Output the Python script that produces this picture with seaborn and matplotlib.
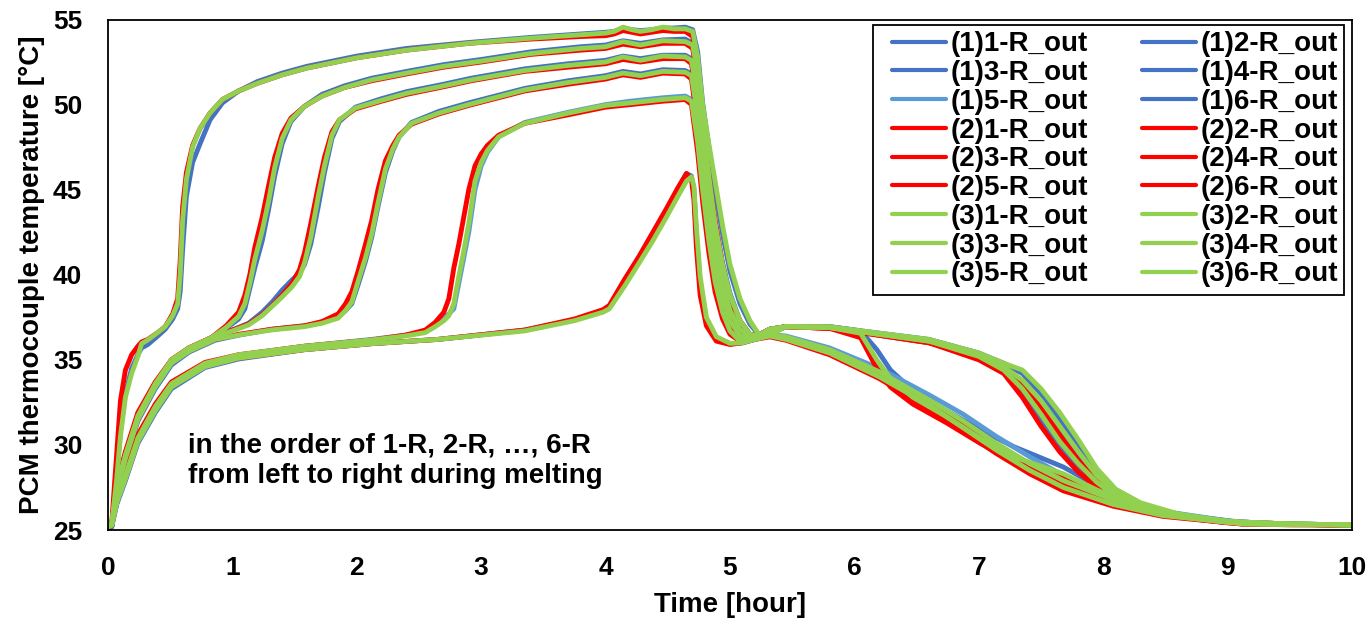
import matplotlib
matplotlib.use("Agg")
import matplotlib.pyplot as plt
from matplotlib.lines import Line2D
from matplotlib.patches import Rectangle
import pandas as pd
import seaborn as sns


FONT_SIZE = 20

# ---- data (time in hours, temperature in degC) ----
TIME_1R = [
    0, 0.03, 0.07, 0.10, 0.14, 0.19, 0.24, 0.27, 0.32, 0.40,
    0.46, 0.52, 0.56, 0.58, 0.60, 0.63, 0.68, 0.74, 0.82, 0.92,
    1.05, 1.2, 1.4, 1.6, 1.8, 2.0, 2.4, 2.9, 3.4, 3.8,
    4.0, 4.07, 4.14, 4.21, 4.28, 4.37, 4.46, 4.55, 4.64, 4.70,
    4.74, 4.78, 4.83, 4.88, 4.94, 5.00, 5.08, 5.16, 5.24, 5.32,
    5.45, 5.8, 6.1, 6.6, 7.0, 7.2, 7.35, 7.5, 7.65, 7.8,
    7.95, 8.1, 8.3, 8.6, 9.0, 9.5, 10.0,
]
RUN1_1R = [
    25.1, 25.2, 28.3, 30.8, 33.0, 34.5, 35.3, 35.7, 35.9, 36.4,
    36.8, 37.4, 38.0, 39.0, 41.5, 44.6, 46.6, 47.7, 49.1, 50.1,
    50.8, 51.35, 51.85, 52.25, 52.55, 52.85, 53.3, 53.65, 53.95, 54.15,
    54.25, 54.3, 54.5, 54.4, 54.35, 54.4, 54.5, 54.5, 54.55, 54.4,
    53.1, 50.1, 47.5, 45.0, 42.4, 40.2, 38.3, 37.1, 36.4, 36.5,
    36.95, 36.95, 36.66, 36.2, 35.4, 34.8, 34.2, 33.0, 31.5, 29.9,
    28.3, 27.2, 26.5, 25.9, 25.5, 25.35, 25.3,
]
RUN2_1R = [
    25.2, 25.4, 29.5, 32.6, 34.4, 35.3, 35.8, 36.05, 36.2, 36.6,
    36.95, 37.7, 38.6, 40.8, 44.0, 46.0, 47.6, 48.6, 49.5, 50.3,
    50.8, 51.25, 51.75, 52.15, 52.45, 52.75, 53.2, 53.6, 53.85, 54.0,
    54.05, 54.15, 54.35, 54.25, 54.15, 54.25, 54.35, 54.3, 54.3, 54.0,
    52.0, 48.8, 45.8, 43.2, 40.6, 38.6, 37.3, 36.5, 36.4, 36.6,
    36.95, 36.9, 36.6, 36.1, 35.3, 34.6, 33.6, 32.2, 30.6, 29.1,
    27.9, 27.0, 26.3, 25.8, 25.45, 25.33, 25.3,
]
RUN3_1R = [
    25.2, 25.3, 28.0, 30.5, 32.8, 34.2, 35.2, 35.95, 36.17, 36.6,
    36.95, 37.6, 38.3, 40.0, 43.2, 45.6, 47.5, 48.6, 49.5, 50.3,
    50.8, 51.25, 51.75, 52.15, 52.45, 52.75, 53.2, 53.6, 53.9, 54.1,
    54.2, 54.3, 54.55, 54.4, 54.3, 54.4, 54.55, 54.45, 54.45, 54.3,
    52.8, 50.0, 47.7, 45.5, 42.9, 40.6, 38.6, 37.3, 36.4, 36.5,
    36.95, 36.95, 36.66, 36.2, 35.4, 34.8, 34.4, 33.3, 31.9, 30.3,
    28.6, 27.4, 26.6, 25.95, 25.5, 25.35, 25.3,
]

TIME_2R = [
    0, 0.03, 0.07, 0.14, 0.24, 0.38, 0.51, 0.65, 0.83, 0.95,
    1.05, 1.10, 1.14, 1.18, 1.24, 1.29, 1.34, 1.40, 1.47, 1.58,
    1.72, 1.9, 2.12, 2.4, 2.7, 3.0, 3.4, 3.8, 4.0, 4.14,
    4.28, 4.46, 4.64, 4.70, 4.74, 4.78, 4.83, 4.88, 4.94, 5.00,
    5.08, 5.16, 5.24, 5.32, 5.45, 5.8, 6.1, 6.6, 7.0, 7.2,
    7.35, 7.5, 7.65, 7.8, 7.95, 8.1, 8.3, 8.6, 9.0, 9.5,
    10.0,
]
RUN1_2R = [
    25.1, 25.2, 27.3, 29.3, 31.6, 33.5, 34.9, 35.65, 36.3, 36.85,
    37.4, 38.0, 39.2, 40.4, 42.0, 43.8, 45.8, 47.7, 49.0, 49.9,
    50.6, 51.1, 51.55, 51.95, 52.35, 52.65, 53.1, 53.4, 53.5, 53.75,
    53.6, 53.8, 53.85, 53.6, 51.9, 49.1, 45.9, 43.1, 40.7, 38.9,
    37.3, 36.5, 36.4, 36.7, 36.95, 36.9, 36.6, 36.1, 35.3, 34.5,
    33.6, 32.3, 30.8, 29.3, 28.0, 27.1, 26.35, 25.85, 25.5, 25.35,
    25.3,
]
RUN2_2R = [
    25.2, 25.3, 27.7, 29.6, 31.9, 33.7, 35.0, 35.7, 36.3, 37.0,
    37.8, 38.8, 40.0, 41.6, 43.4, 45.2, 46.9, 48.3, 49.2, 49.9,
    50.5, 51.0, 51.4, 51.8, 52.2, 52.5, 52.95, 53.2, 53.3, 53.55,
    53.4, 53.6, 53.6, 53.3, 51.3, 48.2, 45.0, 42.3, 40.0, 38.3,
    37.0, 36.4, 36.4, 36.7, 36.95, 36.85, 36.55, 36.0, 35.2, 34.4,
    33.4, 31.9, 30.3, 28.9, 27.7, 26.9, 26.2, 25.8, 25.45, 25.33,
    25.3,
]
RUN3_2R = [
    25.2, 25.3, 27.5, 29.4, 31.7, 33.6, 35.0, 35.7, 36.3, 36.9,
    37.55, 38.3, 39.5, 40.9, 42.6, 44.3, 46.3, 48.0, 49.1, 49.9,
    50.5, 51.0, 51.45, 51.85, 52.25, 52.55, 53.0, 53.3, 53.4, 53.7,
    53.5, 53.75, 53.7, 53.5, 51.8, 49.0, 45.8, 43.0, 40.6, 38.8,
    37.3, 36.5, 36.4, 36.7, 36.95, 36.9, 36.6, 36.1, 35.3, 34.6,
    33.8, 32.6, 31.1, 29.6, 28.2, 27.2, 26.4, 25.85, 25.5, 25.35,
    25.3,
]

TIME_3R = [
    0, 0.03, 0.07, 0.14, 0.24, 0.38, 0.51, 0.65, 0.86, 1.0,
    1.13, 1.24, 1.32, 1.40, 1.48, 1.54, 1.58, 1.63, 1.69, 1.74,
    1.80, 1.86, 1.99, 2.2, 2.4, 2.7, 2.92, 3.35, 3.7, 4.0,
    4.14, 4.28, 4.46, 4.64, 4.69, 4.74, 4.78, 4.83, 4.88, 4.94,
    5.00, 5.08, 5.16, 5.24, 5.32, 5.45, 5.8, 6.1, 6.6, 7.0,
    7.2, 7.35, 7.5, 7.65, 7.8, 7.95, 8.1, 8.3, 8.6, 9.0,
    9.5, 10.0,
]
RUN1_3R = [
    25.1, 25.2, 27.2, 29.2, 31.5, 33.4, 34.8, 35.6, 36.3, 36.75,
    37.15, 37.8, 38.4, 39.1, 39.7, 40.1, 40.6, 41.8, 44.0, 46.0,
    48.0, 49.0, 49.85, 50.35, 50.76, 51.2, 51.55, 52.1, 52.4, 52.6,
    52.85, 52.7, 52.9, 52.9, 52.7, 50.6, 47.9, 44.6, 41.9, 39.6,
    37.9, 36.8, 36.3, 36.45, 36.8, 36.95, 36.9, 36.6, 36.1, 35.2,
    34.3, 33.1, 31.5, 30.0, 28.7, 27.7, 26.9, 26.25, 25.8, 25.45,
    25.35, 25.3,
]
RUN2_3R = [
    25.2, 25.3, 27.6, 29.5, 31.8, 33.6, 35.0, 35.7, 36.4, 36.75,
    37.1, 37.65, 38.2, 38.8, 39.5, 40.3, 41.3, 43.0, 45.2, 46.9,
    48.4, 49.1, 49.75, 50.2, 50.6, 51.05, 51.4, 51.95, 52.2, 52.4,
    52.65, 52.5, 52.7, 52.7, 52.4, 50.0, 47.0, 43.8, 41.1, 38.9,
    37.5, 36.6, 36.3, 36.5, 36.8, 36.95, 36.85, 36.55, 36.0, 35.0,
    34.2, 32.8, 31.1, 29.6, 28.4, 27.5, 26.8, 26.2, 25.75, 25.42,
    25.33, 25.3,
]
RUN3_3R = [
    25.2, 25.3, 27.4, 29.3, 31.6, 33.5, 34.9, 35.65, 36.36, 36.7,
    37.05, 37.6, 38.15, 38.7, 39.3, 39.9, 40.7, 42.2, 44.6, 46.4,
    48.2, 49.1, 49.8, 50.25, 50.66, 51.1, 51.45, 52.0, 52.3, 52.5,
    52.8, 52.6, 52.85, 52.8, 52.6, 50.5, 47.8, 44.5, 41.8, 39.5,
    37.9, 36.8, 36.3, 36.45, 36.8, 36.95, 36.9, 36.6, 36.1, 35.2,
    34.4, 33.3, 31.8, 30.2, 28.9, 27.8, 27.0, 26.3, 25.8, 25.45,
    25.35, 25.3,
]

TIME_4R = [
    0, 0.03, 0.07, 0.14, 0.24, 0.38, 0.51, 0.65, 0.86, 1.05,
    1.32, 1.58, 1.72, 1.85, 1.91, 1.96, 2.01, 2.07, 2.12, 2.17,
    2.23, 2.29, 2.34, 2.44, 2.66, 2.9, 3.35, 3.7, 4.0, 4.14,
    4.28, 4.46, 4.64, 4.69, 4.74, 4.78, 4.83, 4.88, 4.94, 5.00,
    5.08, 5.16, 5.24, 5.32, 5.45, 5.8, 6.05, 6.18, 6.29, 6.47,
    6.74, 7.01, 7.28, 7.68, 7.95, 8.35, 8.7, 9.1, 9.5, 10.0,
]
RUN1_4R = [
    25.1, 25.2, 27.2, 29.1, 31.4, 33.3, 34.7, 35.45, 36.15, 36.45,
    36.8, 37.0, 37.2, 37.5, 37.9, 38.3, 39.4, 40.8, 42.2, 44.0,
    46.0, 47.3, 48.1, 48.95, 49.6, 50.1, 50.95, 51.4, 51.7, 51.95,
    51.8, 52.05, 52.0, 51.8, 49.5, 46.7, 43.5, 40.9, 38.8, 37.4,
    36.4, 36.2, 36.5, 36.8, 36.95, 36.95, 36.7, 35.6, 34.4, 33.2,
    32.0, 30.9, 29.9, 28.7, 27.6, 26.3, 25.8, 25.47, 25.35, 25.3,
]
RUN2_4R = [
    25.2, 25.3, 27.5, 29.4, 31.7, 33.5, 34.9, 35.55, 36.2, 36.5,
    36.8, 37.0, 37.25, 37.7, 38.3, 39.0, 40.2, 41.8, 43.2, 45.0,
    46.7, 47.6, 48.2, 48.85, 49.45, 49.95, 50.8, 51.2, 51.5, 51.75,
    51.6, 51.85, 51.8, 51.5, 48.8, 45.8, 42.6, 40.1, 38.2, 37.0,
    36.3, 36.2, 36.5, 36.8, 36.95, 36.85, 36.3, 34.5, 33.4, 32.4,
    31.3, 30.1, 29.1, 28.1, 27.2, 26.1, 25.7, 25.42, 25.33, 25.3,
]
RUN3_4R = [
    25.2, 25.3, 27.3, 29.2, 31.5, 33.4, 34.8, 35.5, 36.2, 36.46,
    36.76, 36.95, 37.15, 37.45, 37.9, 38.4, 39.6, 41.0, 42.4, 44.2,
    46.2, 47.4, 48.1, 48.9, 49.5, 50.0, 50.86, 51.3, 51.6, 51.85,
    51.7, 51.95, 51.9, 51.7, 49.4, 46.6, 43.4, 40.8, 38.7, 37.3,
    36.4, 36.2, 36.5, 36.8, 36.95, 36.9, 36.56, 35.0, 33.9, 32.8,
    31.66, 30.4, 29.3, 28.3, 27.35, 26.2, 25.75, 25.45, 25.35, 25.3,
]

TIME_5R = [
    0, 0.03, 0.07, 0.14, 0.24, 0.38, 0.51, 0.78, 1.05, 1.58,
    2.12, 2.39, 2.55, 2.63, 2.70, 2.74, 2.78, 2.82, 2.86, 2.90,
    2.95, 3.00, 3.05, 3.14, 3.35, 3.7, 4.0, 4.2, 4.46, 4.64,
    4.69, 4.74, 4.78, 4.83, 4.88, 4.94, 5.00, 5.08, 5.16, 5.24,
    5.32, 5.45, 5.8, 6.2, 6.61, 6.875, 7.14, 7.41, 7.68, 8.08,
    8.48, 9.13, 9.5, 10.0,
]
RUN1_5R = [
    25.1, 25.2, 26.6, 28.1, 30.3, 32.2, 33.5, 34.75, 35.25, 35.8,
    36.2, 36.45, 36.65, 37.0, 37.4, 37.7, 38.0, 39.5, 41.0, 42.5,
    45.0, 46.4, 47.2, 48.1, 48.95, 49.55, 50.0, 50.2, 50.4, 50.5,
    50.3, 47.9, 45.1, 42.1, 39.7, 37.9, 36.7, 36.1, 36.2, 36.4,
    36.5, 36.4, 35.7, 34.5, 32.9, 31.8, 30.5, 29.3, 28.2, 27.0,
    26.1, 25.4, 25.33, 25.3,
]
RUN2_5R = [
    25.2, 25.3, 26.9, 28.4, 30.6, 32.4, 33.7, 34.85, 35.3, 35.8,
    36.17, 36.45, 36.75, 37.2, 37.8, 38.6, 40.4, 41.8, 43.4, 45.0,
    46.4, 47.1, 47.6, 48.2, 48.9, 49.4, 49.85, 50.0, 50.2, 50.3,
    50.0, 47.2, 44.3, 41.3, 39.0, 37.4, 36.5, 36.1, 36.2, 36.4,
    36.45, 36.3, 35.5, 34.1, 32.4, 31.2, 29.9, 28.7, 27.7, 26.6,
    25.9, 25.34, 25.31, 25.3,
]
RUN3_5R = [
    25.2, 25.3, 26.7, 28.2, 30.4, 32.25, 33.6, 34.8, 35.3, 35.8,
    36.17, 36.4, 36.6, 36.95, 37.3, 37.6, 38.3, 39.9, 41.4, 43.0,
    45.5, 46.6, 47.3, 48.1, 48.9, 49.5, 49.95, 50.1, 50.3, 50.4,
    50.2, 47.8, 45.0, 42.0, 39.6, 37.8, 36.7, 36.1, 36.2, 36.4,
    36.5, 36.35, 35.6, 34.3, 32.6, 31.4, 30.1, 28.9, 27.9, 26.77,
    25.99, 25.36, 25.32, 25.3,
]

TIME_6R = [
    0, 0.03, 0.07, 0.14, 0.24, 0.38, 0.51, 0.78, 1.05, 1.58,
    2.12, 2.65, 3.35, 3.75, 3.98, 4.03, 4.15, 4.27, 4.38, 4.49,
    4.58, 4.65, 4.69, 4.71, 4.73, 4.76, 4.81, 4.89, 5.00, 5.10,
    5.20, 5.32, 5.45, 5.8, 6.2, 6.61, 6.875, 7.14, 7.41, 7.68,
    8.08, 8.48, 9.13, 9.5, 10.0,
]
RUN1_6R = [
    25.1, 25.2, 26.5, 27.9, 30.1, 31.9, 33.3, 34.55, 35.05, 35.6,
    35.95, 36.2, 36.75, 37.35, 37.9, 38.15, 39.6, 41.0, 42.4, 43.8,
    45.0, 45.95, 45.8, 45.0, 42.3, 39.5, 37.3, 36.3, 35.95, 36.0,
    36.2, 36.4, 36.2, 35.45, 34.1, 32.5, 31.2, 29.9, 28.7, 27.6,
    26.6, 25.9, 25.38, 25.33, 25.3,
]
RUN2_6R = [
    25.2, 25.3, 26.8, 28.2, 30.4, 32.1, 33.5, 34.65, 35.1, 35.6,
    35.95, 36.2, 36.75, 37.4, 37.95, 38.2, 39.7, 41.1, 42.5, 43.9,
    45.1, 45.95, 45.6, 44.4, 41.6, 38.8, 37.0, 36.1, 35.9, 36.0,
    36.2, 36.35, 36.15, 35.3, 33.9, 32.1, 30.8, 29.5, 28.3, 27.3,
    26.4, 25.8, 25.34, 25.31, 25.3,
]
RUN3_6R = [
    25.2, 25.3, 26.6, 28.0, 30.2, 32.0, 33.4, 34.6, 35.1, 35.6,
    35.95, 36.2, 36.7, 37.3, 37.8, 38.0, 39.3, 40.7, 42.0, 43.4,
    44.6, 45.5, 45.75, 45.2, 42.8, 39.9, 37.5, 36.36, 35.97, 36.0,
    36.2, 36.4, 36.2, 35.4, 34.0, 32.3, 31.0, 29.7, 28.5, 27.5,
    26.5, 25.85, 25.36, 25.32, 25.3,
]

POSITIONS = ["1-R", "2-R", "3-R", "4-R", "5-R", "6-R"]
RUNS = ["(1)", "(2)", "(3)"]
TIMES = [TIME_1R, TIME_2R, TIME_3R, TIME_4R, TIME_5R, TIME_6R]
TEMPS = {
    "(1)": [RUN1_1R, RUN1_2R, RUN1_3R, RUN1_4R, RUN1_5R, RUN1_6R],
    "(2)": [RUN2_1R, RUN2_2R, RUN2_3R, RUN2_4R, RUN2_5R, RUN2_6R],
    "(3)": [RUN3_1R, RUN3_2R, RUN3_3R, RUN3_4R, RUN3_5R, RUN3_6R],
}
RUN_COLORS = {"(1)": "#4472C4", "(2)": "#FF0000", "(3)": "#92D050"}
LIGHT_BLUE = "#5B9BD5"

X_TICKS = list(range(0, 11))
Y_TICKS = [25, 30, 35, 40, 45, 50, 55]
NOTE = "in the order of 1-R, 2-R, \u2026, 6-R\nfrom left to right during melting"


def build_frame() -> pd.DataFrame:
    rows = []
    for run in RUNS:
        for pos, times, temps in zip(POSITIONS, TIMES, TEMPS[run]):
            name = f"{run}{pos}_out"
            for t, v in zip(times, temps):
                rows.append({"time": t, "temp": v, "series": name})
    return pd.DataFrame(rows)


def series_palette() -> dict:
    palette = {}
    for run in RUNS:
        for pos in POSITIONS:
            palette[f"{run}{pos}_out"] = RUN_COLORS[run]
    palette["(1)5-R_out"] = LIGHT_BLUE
    return palette


def configure_style() -> None:
    sns.set_style("white")
    plt.rcParams["font.family"] = ["Liberation Sans", "DejaVu Sans"]
    plt.rcParams["font.weight"] = "bold"
    for key in ("text.color", "axes.labelcolor", "xtick.color", "ytick.color"):
        plt.rcParams[key] = "black"
    plt.rcParams["lines.solid_joinstyle"] = "round"
    plt.rcParams["lines.solid_capstyle"] = "round"


def main() -> None:
    configure_style()
    df = build_frame()
    palette = series_palette()
    order = [f"{run}{pos}_out" for run in RUNS for pos in POSITIONS]

    fig = plt.figure(figsize=(13.7, 6.24), dpi=100)
    ax = fig.add_axes([108 / 1370, 1 - 530 / 624, 1244 / 1370, 510.5 / 624])

    sns.lineplot(
        data=df, x="time", y="temp", hue="series", hue_order=order,
        palette=palette, estimator=None, sort=False, linewidth=3.5,
        legend=False, ax=ax,
    )

    ax.set_xlim(0, 10)
    ax.set_ylim(25, 55)
    ax.set_xticks(X_TICKS)
    ax.set_yticks(Y_TICKS)
    ax.tick_params(axis="both", length=0, labelsize=19)
    ax.tick_params(axis="y", pad=18.5)
    ax.tick_params(axis="x", pad=19)
    for lab in ax.get_xticklabels() + ax.get_yticklabels():
        lab.set_fontweight("bold")
    ax.set_xlabel("Time [hour]", fontsize=FONT_SIZE, fontweight="bold", labelpad=8)
    ax.set_ylabel("PCM thermocouple temperature [\u00b0C]", fontsize=FONT_SIZE,
                  fontweight="bold", labelpad=6)
    for spine in ax.spines.values():
        spine.set_color("black")
        spine.set_linewidth(1.3)

    ax.text(0.643, 27.77, NOTE, fontsize=FONT_SIZE, fontweight="bold",
            ha="left", va="baseline", linespacing=1.22)

    # legend frame drawn separately so the inner padding can match the original
    frame = Rectangle((0.615, 0.4603), 0.9936 - 0.615, 0.9892 - 0.4603,
                      transform=ax.transAxes, facecolor="white",
                      edgecolor="black", linewidth=1.3, zorder=4.5)
    ax.add_patch(frame)

    # legend filled row by row like the original: odd positions in column one
    legend_order = [f"{run}{pos}_out" for run in RUNS for pos in POSITIONS[0::2]]
    legend_order += [f"{run}{pos}_out" for run in RUNS for pos in POSITIONS[1::2]]
    handles = [Line2D([], [], color=palette[name], linewidth=3.0) for name in legend_order]
    leg = ax.legend(
        handles, legend_order, ncol=2, loc="upper left",
        bbox_to_anchor=(0.6302, 0.977), borderaxespad=0,
        prop={"weight": "bold", "size": FONT_SIZE},
        handlelength=1.95, handletextpad=0.15, columnspacing=1.95,
        labelspacing=0.1, borderpad=0, frameon=False,
    )
    leg.set_zorder(5)

    fig.savefig("out.png", dpi=100)
    plt.close(fig)


if __name__ == "__main__":
    main()
